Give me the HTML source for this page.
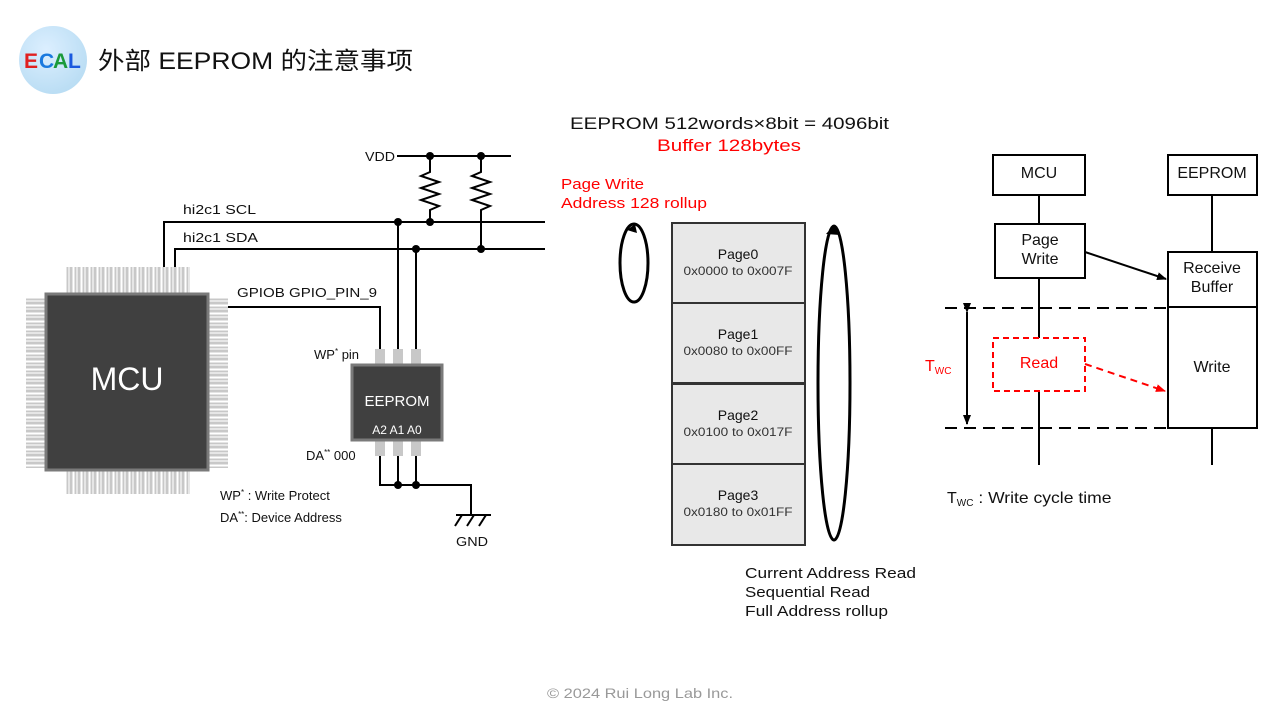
<!DOCTYPE html>
<html><head><meta charset="utf-8"><style>
html,body{margin:0;padding:0;background:#fff}
svg{display:block}
text{font-family:"Liberation Sans","Noto Sans CJK SC",sans-serif}
</style></head><body>
<svg width="1280" height="720" viewBox="0 0 1280 720" xmlns="http://www.w3.org/2000/svg">
<defs>
<radialGradient id="lg" cx="0.4" cy="0.35" r="0.7"><stop offset="0" stop-color="#dcefff"/><stop offset="1" stop-color="#b8dcf3"/></radialGradient>
<pattern id="pv" x="66" y="0" width="8" height="8" patternUnits="userSpaceOnUse"><rect x="0.5" y="0" width="6" height="8" fill="#c8c8c8"/><rect x="2" y="0" width="2" height="8" fill="#e6e6e6"/></pattern>
<pattern id="ph" x="0" y="298" width="8" height="8" patternUnits="userSpaceOnUse"><rect x="0" y="0.5" width="8" height="6" fill="#c8c8c8"/><rect x="0" y="2" width="8" height="2" fill="#e6e6e6"/></pattern>
<marker id="ab" markerWidth="10" markerHeight="10" refX="9" refY="5" orient="auto" markerUnits="userSpaceOnUse"><path d="M0,1 L10,5 L0,9 z" fill="#000"/></marker>
<marker id="ar" markerWidth="10" markerHeight="10" refX="9" refY="5" orient="auto" markerUnits="userSpaceOnUse"><path d="M0,1 L10,5 L0,9 z" fill="#f00"/></marker>
</defs>

<!-- header -->
<circle cx="53" cy="60" r="34" fill="url(#lg)"/>
<text x="24" y="68" font-size="21" font-weight="bold" fill="#e02020">E</text>
<text x="39" y="68" font-size="21" font-weight="bold" fill="#1a7adf">C</text>
<text x="53" y="68" font-size="21" font-weight="bold" fill="#1a9a3a">A</text>
<text x="68" y="68" font-size="21" font-weight="bold" fill="#1a5adf">L</text>
<text x="98" y="69" font-size="24" fill="#111" textLength="315" lengthAdjust="spacingAndGlyphs">外部 EEPROM 的注意事项</text>

<!-- MCU pins -->
<rect x="66" y="267" width="124" height="28" fill="url(#pv)"/>
<rect x="66" y="469" width="124" height="25" fill="url(#pv)"/>
<rect x="26" y="298" width="21" height="170" fill="url(#ph)"/>
<rect x="207" y="298" width="21" height="170" fill="url(#ph)"/>
<rect x="46" y="294" width="162" height="176" fill="#404040" stroke="#7a7a7a" stroke-width="3"/>
<text x="127" y="390" font-size="32" fill="#fff" text-anchor="middle">MCU</text>

<g stroke="#000" stroke-width="2" fill="none">
<polyline points="164,267 164,222 545,222"/>
<polyline points="175,267 175,249 545,249"/>
<polyline points="228,307 380,307 380,350"/>
<line x1="398" y1="222" x2="398" y2="350"/>
<line x1="416" y1="249" x2="416" y2="350"/>
<line x1="397" y1="156" x2="511" y2="156"/>
<polyline points="430,156 430,172 421,176 439,182 421,188 439,194 421,200 439,206 430,210 430,222"/>
<polyline points="481,156 481,172 472,176 490,182 472,188 490,194 472,200 490,206 481,210 481,249"/>
<polyline points="380,455 380,485 471,485 471,515"/>
<line x1="398" y1="455" x2="398" y2="485"/>
<line x1="416" y1="455" x2="416" y2="485"/>
<line x1="456" y1="515" x2="491" y2="515"/>
<line x1="462" y1="515" x2="455" y2="526"/><line x1="474" y1="515" x2="467" y2="526"/><line x1="486" y1="515" x2="479" y2="526"/>
</g>
<g fill="#000">
<circle cx="398" cy="222" r="4"/><circle cx="430" cy="222" r="4"/><circle cx="416" cy="249" r="4"/><circle cx="481" cy="249" r="4"/>
<circle cx="430" cy="156" r="4"/><circle cx="481" cy="156" r="4"/>
<circle cx="398" cy="485" r="4"/><circle cx="416" cy="485" r="4"/>
</g>
<!-- eeprom pins -->
<g fill="#c8c8c8">
<rect x="375" y="349" width="10" height="16"/><rect x="393" y="349" width="10" height="16"/><rect x="411" y="349" width="10" height="16"/>
<rect x="375" y="440" width="10" height="16"/><rect x="393" y="440" width="10" height="16"/><rect x="411" y="440" width="10" height="16"/>
</g>
<rect x="352" y="365" width="90" height="75" fill="#404040" stroke="#7a7a7a" stroke-width="3"/>
<text x="397" y="406" font-size="15" fill="#fff" text-anchor="middle">EEPROM</text>
<text x="397" y="434" font-size="12" fill="#fff" text-anchor="middle">A2  A1  A0</text>

<g font-size="13" fill="#111">
<text x="365" y="161" textLength="30" lengthAdjust="spacingAndGlyphs">VDD</text>
<text x="183" y="214" textLength="73" lengthAdjust="spacingAndGlyphs">hi2c1  SCL</text>
<text x="183" y="242" textLength="75" lengthAdjust="spacingAndGlyphs">hi2c1  SDA</text>
<text x="237" y="297" textLength="140" lengthAdjust="spacingAndGlyphs">GPIOB  GPIO_PIN_9</text>
<text x="314" y="359">WP<tspan font-size="8" dy="-5">*</tspan><tspan dy="5"> pin</tspan></text>
<text x="306" y="460">DA<tspan font-size="8" dy="-5">**</tspan><tspan dy="5"> 000</tspan></text>
<text x="220" y="500">WP<tspan font-size="8" dy="-5">*</tspan><tspan dy="5"> : Write Protect</tspan></text>
<text x="220" y="522">DA<tspan font-size="8" dy="-5">**</tspan><tspan dy="5">: Device Address</tspan></text>
<text x="456" y="546" textLength="32" lengthAdjust="spacingAndGlyphs">GND</text>
</g>

<!-- middle -->
<text x="570" y="129" font-size="17" fill="#111" textLength="319" lengthAdjust="spacingAndGlyphs">EEPROM 512words×8bit = 4096bit</text>
<text x="657" y="151" font-size="17" fill="#f00" textLength="144" lengthAdjust="spacingAndGlyphs">Buffer 128bytes</text>
<text x="561" y="189" font-size="15" fill="#f00" textLength="83" lengthAdjust="spacingAndGlyphs">Page Write</text>
<text x="561" y="208" font-size="15" fill="#f00" textLength="146" lengthAdjust="spacingAndGlyphs">Address 128 rollup</text>
<g stroke="#333" stroke-width="2" fill="#e8e8e8">
<rect x="672" y="223" width="133" height="80"/>
<rect x="672" y="303" width="133" height="80"/>
<rect x="672" y="384" width="133" height="80"/>
<rect x="672" y="464" width="133" height="81"/>
</g>
<g text-anchor="middle" fill="#111">
<text x="738" y="259" font-size="14">Page0</text><text x="738" y="275" font-size="12" fill="#333" textLength="109" lengthAdjust="spacingAndGlyphs">0x0000 to 0x007F</text>
<text x="738" y="339" font-size="14">Page1</text><text x="738" y="355" font-size="12" fill="#333" textLength="109" lengthAdjust="spacingAndGlyphs">0x0080 to 0x00FF</text>
<text x="738" y="420" font-size="14">Page2</text><text x="738" y="436" font-size="12" fill="#333" textLength="109" lengthAdjust="spacingAndGlyphs">0x0100 to 0x017F</text>
<text x="738" y="500" font-size="14">Page3</text><text x="738" y="516" font-size="12" fill="#333" textLength="109" lengthAdjust="spacingAndGlyphs">0x0180 to 0x01FF</text>
</g>
<ellipse cx="634" cy="263" rx="14" ry="39" fill="none" stroke="#000" stroke-width="3"/>
<path d="M627,230 L635,224 L637,233 z" fill="#000"/>
<ellipse cx="834" cy="383" rx="16" ry="157" fill="none" stroke="#000" stroke-width="3"/>
<path d="M826,234 L834,225 L840,235 z" fill="#000"/>
<g font-size="15" fill="#111">
<text x="745" y="578" textLength="171" lengthAdjust="spacingAndGlyphs">Current Address Read</text>
<text x="745" y="597" textLength="125" lengthAdjust="spacingAndGlyphs">Sequential Read</text>
<text x="745" y="616" textLength="143" lengthAdjust="spacingAndGlyphs">Full Address rollup</text>
</g>

<!-- right sequence -->
<g stroke="#000" stroke-width="2" fill="#fff">
<line x1="1039" y1="195" x2="1039" y2="338"/>
<line x1="1039" y1="391" x2="1039" y2="465"/>
<line x1="1212" y1="195" x2="1212" y2="252"/>
<line x1="1212" y1="428" x2="1212" y2="465"/>
<rect x="993" y="155" width="92" height="40"/>
<rect x="1168" y="155" width="89" height="40"/>
<rect x="995" y="224" width="90" height="54"/>
<rect x="1168" y="252" width="89" height="55"/>
<rect x="1168" y="307" width="89" height="121"/>
<line x1="1085" y1="252" x2="1166" y2="279" marker-end="url(#ab)"/>
<line x1="945" y1="308" x2="1168" y2="308" stroke-dasharray="12,7"/>
<line x1="945" y1="428" x2="1168" y2="428" stroke-dasharray="12,7"/>
<line x1="967" y1="312" x2="967" y2="424" marker-start="url(#ab)" marker-end="url(#ab)"/>
</g>
<rect x="993" y="338" width="92" height="53" fill="#fff" stroke="#f00" stroke-width="2" stroke-dasharray="6,4"/>
<line x1="1085" y1="364" x2="1165" y2="391" stroke="#f00" stroke-width="2" stroke-dasharray="7,5" marker-end="url(#ar)"/>
<g font-size="16" fill="#111" text-anchor="middle">
<text x="1039" y="178">MCU</text>
<text x="1212" y="178">EEPROM</text>
<text x="1040" y="245">Page</text><text x="1040" y="264">Write</text>
<text x="1212" y="273">Receive</text><text x="1212" y="292">Buffer</text>
<text x="1212" y="372">Write</text>
<text x="1039" y="368" fill="#f00">Read</text>
</g>
<text x="925" y="371" font-size="16" fill="#f00">T<tspan font-size="10" dy="3">WC</tspan></text>
<text x="947" y="503" font-size="16" fill="#111">T<tspan font-size="10" dy="3">WC</tspan><tspan dy="-3" textLength="138" lengthAdjust="spacingAndGlyphs"> : Write cycle time</tspan></text>

<text x="547" y="698" font-size="14" fill="#999" textLength="186" lengthAdjust="spacingAndGlyphs">© 2024 Rui Long Lab Inc.</text>
</svg>
</body></html>
